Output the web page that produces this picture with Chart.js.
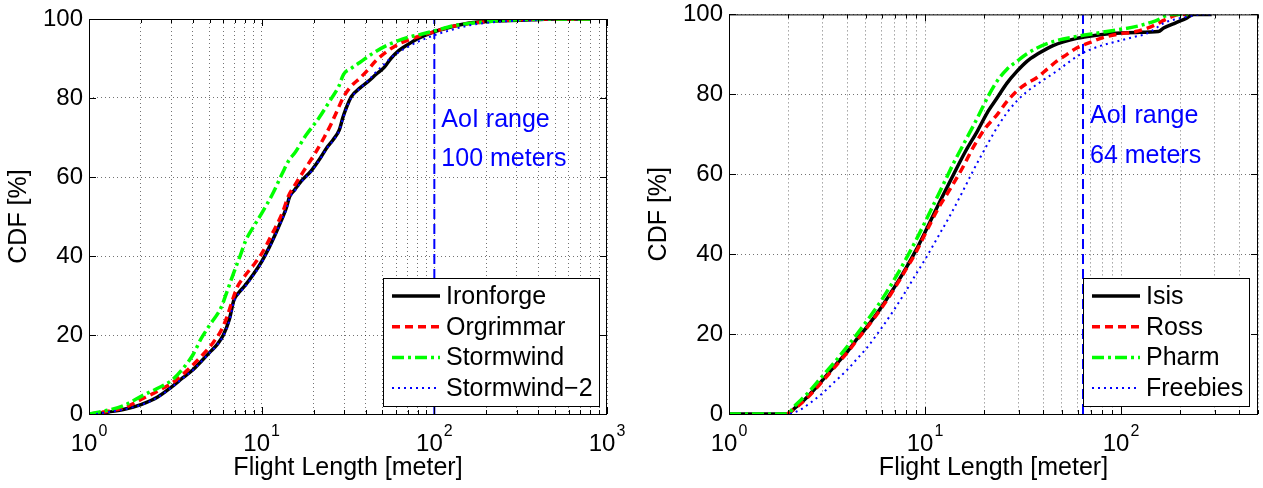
<!DOCTYPE html>
<html>
<head>
<meta charset="utf-8">
<script src="https://cdn.jsdelivr.net/npm/chart.js@4"></script>
<style>
  html, body { margin: 0; padding: 0; background: #fff; }
  #wrap { position: relative; width: 1263px; height: 488px; overflow: hidden; }
  .pane { position: absolute; top: 0; }
</style>
</head>
<body>
<div id="wrap">
  <div class="pane" style="left:0;width:640px;height:488px"><canvas id="leftChart" width="640" height="488"></canvas></div>
  <div class="pane" style="left:640px;width:623px;height:488px"><canvas id="rightChart" width="623" height="488"></canvas></div>
</div>
<script>
// ---- left panel data (flight length in meters, CDF in %) ----
const leftNames = ["Ironforge", "Orgrimmar", "Stormwind", "Stormwind\u22122"];

const ironforgeX = [1.1, 1.3, 1.6, 2, 2.5, 3, 3.5, 4, 4.5, 5, 5.5, 6, 6.5, 6.9, 7.3, 8, 9, 10, 11, 12, 13, 13.9, 14.5, 15.5, 17, 19.3, 22, 24, 26, 28.2, 29.5, 30.6, 33, 37, 41.4, 46, 51.4, 56, 62.2, 70, 80, 98.6, 120, 160, 220, 366, 500, 800];
const ironforgeY = [0, 0.5, 1.2, 2.4, 4.3, 6.8, 9.2, 11.2, 13.5, 15.6, 17.5, 20, 24, 28.8, 30.5, 32.5, 35.5, 38.6, 42, 45.5, 49, 52.2, 55, 56.7, 59, 61.5, 65, 67.6, 69.5, 72, 75, 77, 80.3, 82.5, 84.2, 86, 87.8, 90, 92, 93.5, 95, 96.7, 97.8, 99, 99.5, 99.8, 100, 100];

const orgrimmarX = [1, 1.3, 1.6, 2.07, 2.5, 3.2, 3.8, 4.45, 5.2, 5.8, 6.3, 6.8, 7.2, 8, 9, 10, 11.5, 13.2, 14.3, 15.5, 17.5, 20.4, 23, 25.3, 27.5, 29.8, 33, 37, 41, 46, 54, 63, 80, 98.6, 130, 200, 300, 500, 800];
const orgrimmarY = [0, 0.7, 1.6, 4, 5.8, 8.6, 11.5, 14.5, 17.9, 21, 24.6, 29, 32, 35, 37.8, 40.6, 45.6, 51, 55.2, 57.8, 61.5, 66, 70, 73.5, 77, 80.3, 83, 85, 87, 89.5, 92, 93.8, 95.5, 96.7, 98.2, 99.3, 99.8, 100, 100];

const stormwindX = [1, 1.3, 1.6, 2.07, 2.5, 3.03, 3.5, 4, 4.45, 5, 5.83, 6.3, 6.87, 7.5, 8.1, 9, 10, 11.5, 13.2, 14.5, 15.5, 18, 21.5, 25, 28, 29.8, 33, 37, 44, 51.4, 60, 71, 85, 98.6, 130, 200, 300, 500, 800];
const stormwindY = [0, 1, 2.2, 4.8, 6.5, 8.6, 11.5, 15, 19, 22.5, 27, 31, 35.6, 40, 44, 47.5, 50.8, 55.5, 61, 64.5, 66, 70.5, 75, 79.5, 83, 86, 87.5, 89, 91.3, 93, 94.3, 95.4, 96.2, 96.9, 98.3, 99.3, 99.8, 100, 100];

const stormwind2X = [1.1, 1.3, 1.6, 2, 2.5, 3, 3.5, 4, 4.5, 5, 5.5, 6, 6.5, 6.9, 7.3, 8, 9, 10, 11, 12, 13, 13.9, 14.5, 15.5, 17, 19.3, 22, 24, 26, 28.2, 29.5, 30.6, 33, 37, 41.4, 46, 51.4, 56, 62.2, 70, 80, 98.6, 120, 160, 220, 366, 500, 800];
const stormwind2Y = [0, 0.5, 1.2, 2.3, 4.2, 6.7, 9.1, 11.1, 13.4, 15.5, 17.4, 19.8, 23.6, 28.3, 30.2, 32.2, 35.2, 38.3, 41.8, 45.3, 48.8, 51.8, 54.6, 56.4, 58.8, 61.3, 64.8, 67.4, 69.3, 71.8, 74.7, 76.7, 80, 82.4, 84.4, 86.6, 88.6, 90.2, 91.6, 92.9, 94.2, 95.8, 97, 98.4, 99.2, 99.7, 100, 100];

// ---- right panel data ----
const rightNames = ["Isis", "Ross", "Pharm", "Freebies"];

const isisX = [1, 1.5, 1.97, 2.2, 2.5, 3, 3.5, 4, 4.5, 5, 6, 7, 8, 9, 10, 12, 14, 16, 18.6, 21, 23.4, 26.2, 29.5, 33, 37.3, 45, 59.4, 75, 94.6, 120, 155, 165, 190, 215, 235, 290];
const isisY = [0, 0, 0, 1.8, 4.2, 8.5, 12.3, 15.5, 18.8, 21.5, 26.8, 31.8, 36.5, 41, 45.5, 53.5, 60, 65.5, 71, 75.8, 79.2, 82.8, 85.8, 88.2, 90, 92.2, 94, 94.8, 95.3, 95.5, 95.7, 96.6, 97.9, 99, 100, 100];

const rossX = [1.98, 2.2, 2.5, 3, 3.5, 4, 4.5, 5, 6, 7, 8, 9, 10, 11.7, 13.4, 15.5, 17.7, 20.3, 23.4, 26.3, 29.5, 33, 37.3, 42, 47, 53, 59.4, 68, 78.7, 95, 119, 135, 150, 165, 181, 200, 220];
const rossY = [0, 1.6, 4, 8.2, 12, 15.3, 18.5, 21.3, 26.5, 31.5, 36.2, 40.5, 45, 51.5, 56.2, 61.5, 66.9, 71.5, 75, 78.3, 80.9, 82.7, 84.2, 86.3, 88.3, 90, 91.6, 92.8, 94, 95, 95.7, 96.5, 97.4, 98.5, 99.4, 100, 100];

const pharmX = [1, 1.5, 1.97, 2.2, 2.5, 3, 3.5, 4, 4.5, 5, 6, 7, 8, 9, 10, 12, 14, 16, 18.6, 21, 23.4, 26.2, 29.5, 33, 37.3, 45, 59.4, 75, 94.6, 120, 150, 181, 220];
const pharmY = [0, 0, 0, 2.4, 5, 9.5, 13.3, 16.8, 20, 23, 28.5, 33.8, 38.8, 43.5, 48, 56, 62.8, 68.2, 74.3, 79.5, 83.4, 86.3, 88.3, 90.1, 91.6, 93.2, 94.5, 95.3, 96.1, 97, 98.4, 100, 100];

const freebiesX = [2.05, 2.3, 2.6, 3, 3.5, 4, 4.5, 5, 6, 7, 8, 9, 10.1, 11.7, 13.4, 15.5, 17.7, 20.3, 23.4, 26.3, 29.5, 33, 37.3, 42, 47, 54, 61.9, 75, 94.6, 115, 137, 150, 165, 190, 217, 260, 300];
const freebiesY = [0, 1, 2.8, 5.2, 8.3, 11, 13.8, 16.3, 21.5, 26.3, 30.8, 35, 39, 44.5, 49.6, 55.5, 61.1, 66.5, 71.8, 75.5, 78.4, 80.6, 82.5, 84.2, 85.8, 88, 90, 91.8, 93.2, 94.3, 95.3, 96.5, 97.8, 98.8, 99.4, 100, 100];

// axes
const yTicks = [0, 20, 40, 60, 80, 100];
const leftXMax = 1000;
const rightXMax = 500;
const leftAoI = 100;
const rightAoI = 64;
const leftAoIText = ["AoI range", "100 meters"];
const rightAoIText = ["AoI range", "64 meters"];

// ---- styles ----
const FONT = "'Liberation Sans', Arial, Helvetica, sans-serif";
const lineStyles = [
  { color: "#000000", width: 3.5, dash: [] },
  { color: "#ff0000", width: 3.5, dash: [8, 5] },
  { color: "#00ff00", width: 3.5, dash: [12, 4, 3, 4] },
  { color: "#0000ff", width: 2, dash: [2, 4] }
];

function logGrid(max) {
  const out = [];
  for (let e = 0; Math.pow(10, e) <= max; e++) {
    for (let m = 1; m <= 9; m++) {
      const v = m * Math.pow(10, e);
      if (v <= max) out.push(v);
    }
  }
  return out;
}
function isPow10(v) {
  const l = Math.log10(v);
  return Math.abs(l - Math.round(l)) < 1e-9;
}

// draws box, inner tick marks, 10^k labels, AoI text and legend like MATLAB
const matlabAxes = {
  id: "matlabAxes",
  afterDatasetsDraw(chart, args, opts) {
    const { ctx, chartArea: a } = chart;
    const x = chart.scales.x, y = chart.scales.y;
    ctx.save();
    ctx.strokeStyle = "#000";
    ctx.lineWidth = 1;
    ctx.setLineDash([]);
    ctx.strokeRect(a.left + 0.5, a.top + 0.5, a.right - a.left - 1, a.bottom - a.top);

    // tick marks
    ctx.beginPath();
    x.ticks.forEach(t => {
      const px = Math.round(x.getPixelForValue(t.value)) + 0.5;
      const len = t.major ? 7 : 4;
      ctx.moveTo(px, a.bottom); ctx.lineTo(px, a.bottom - len);
      ctx.moveTo(px, a.top); ctx.lineTo(px, a.top + len);
    });
    y.ticks.forEach(t => {
      const py = Math.round(y.getPixelForValue(t.value)) + 0.5;
      ctx.moveTo(a.left, py); ctx.lineTo(a.left + 7, py);
      ctx.moveTo(a.right, py); ctx.lineTo(a.right - 7, py);
    });
    ctx.stroke();

    // x tick labels 10^k
    ctx.fillStyle = "#000";
    ctx.textBaseline = "alphabetic";
    ctx.textAlign = "left";
    x.ticks.filter(t => t.major).forEach(t => {
      const px = x.getPixelForValue(t.value);
      const exp = String(Math.round(Math.log10(t.value)));
      ctx.font = "24px " + FONT;
      const wb = ctx.measureText("10").width;
      ctx.font = "16px " + FONT;
      const we = ctx.measureText(exp).width;
      const x0 = px - (wb + 1 + we) / 2;
      ctx.font = "24px " + FONT;
      ctx.fillText("10", x0, a.bottom + 37);
      ctx.font = "16px " + FONT;
      ctx.fillText(exp, x0 + wb + 1, a.bottom + 22);
    });

    // AoI annotation text
    ctx.fillStyle = "#0000ff";
    ctx.font = "25px " + FONT;
    const ax = x.getPixelForValue(opts.aoi) + 7;
    opts.aoiText.forEach((s, i) => {
      ctx.fillText(s, ax, y.getPixelForValue(opts.aoiY[i]));
    });

    // legend
    ctx.font = "25px " + FONT;
    const tw = Math.max(...opts.names.map(n => ctx.measureText(n).width));
    const bw = Math.round(9 + 48 + 6 + tw + 6);
    const bh = 128;
    const bx = Math.round(a.right - opts.legendGap - bw);
    const by = Math.round(a.bottom - 8 - bh);
    ctx.fillStyle = "#fff";
    ctx.fillRect(bx, by, bw, bh);
    ctx.strokeStyle = "#000";
    ctx.lineWidth = 1;
    ctx.strokeRect(bx + 0.5, by + 0.5, bw, bh);
    opts.names.forEach((n, i) => {
      const cy = by + 18 + i * 30.7;
      const st = lineStyles[i];
      ctx.strokeStyle = st.color;
      ctx.lineWidth = st.width;
      ctx.setLineDash(st.dash);
      ctx.beginPath();
      ctx.moveTo(bx + 9, cy);
      ctx.lineTo(bx + 57, cy);
      ctx.stroke();
      ctx.setLineDash([]);
      ctx.fillStyle = "#000";
      ctx.textBaseline = "middle";
      ctx.fillText(n, bx + 63, cy + 1);
    });
    ctx.restore();
  }
};

function makeChart(id, names, xs, ys, xMax, aoi, aoiText, pad) {
  const datasets = names.map((name, i) => ({
    label: name,
    data: xs[i].map((v, j) => ({ x: v, y: ys[i][j] })),
    borderColor: lineStyles[i].color,
    borderWidth: lineStyles[i].width,
    borderDash: lineStyles[i].dash,
    pointRadius: 0,
    cubicInterpolationMode: "monotone",
    fill: false,
    order: 10 - i
  }));
  datasets.push({
    label: "AoI",
    data: [{ x: aoi, y: 0 }, { x: aoi, y: 100 }],
    borderColor: "#0000ff",
    borderWidth: 2,
    borderDash: [10, 5],
    pointRadius: 0,
    fill: false,
    order: 20
  });

  new Chart(document.getElementById(id), {
    type: "line",
    data: { datasets },
    options: {
      responsive: false,
      animation: false,
      devicePixelRatio: 1,
      layout: { padding: { left: 0, right: pad.right, top: pad.top, bottom: 0 } },
      plugins: {
        legend: { display: false },
        tooltip: { enabled: false },
        matlabAxes: {
          names: names,
          aoi: aoi,
          aoiText: aoiText,
          aoiY: [72.7, 62.8],
          legendGap: pad.legendGap
        }
      },
      scales: {
        x: {
          type: "logarithmic",
          min: 1,
          max: xMax,
          afterBuildTicks: s => {
            s.ticks = logGrid(xMax).map(v => ({ value: v, major: isPow10(v) }));
          },
          afterFit: s => { s.height = 74; },
          ticks: { display: false, autoSkip: false },
          grid: { color: "rgba(0,0,0,0.55)", lineWidth: 1, drawTicks: false },
          border: { display: false, dash: [1, 3] },
          title: {
            display: true,
            text: "Flight Length [meter]",
            color: "#000",
            font: { family: FONT, size: 25 },
            padding: { top: 0, bottom: 5 }
          }
        },
        y: {
          min: 0,
          max: 100,
          afterBuildTicks: s => { s.ticks = yTicks.map(v => ({ value: v })); },
          afterFit: s => { s.width = 89; },
          ticks: {
            color: "#000",
            padding: 6,
            font: { family: FONT, size: 24, lineHeight: 0.7 }
          },
          grid: { color: "rgba(0,0,0,0.55)", lineWidth: 1, drawTicks: false },
          border: { display: false, dash: [1, 3] },
          title: {
            display: true,
            text: "CDF [%]",
            color: "#000",
            font: { family: FONT, size: 25 },
            padding: { top: 4, bottom: 4 }
          }
        }
      }
    },
    plugins: [matlabAxes]
  });
}

makeChart("leftChart", leftNames,
  [ironforgeX, orgrimmarX, stormwindX, stormwind2X],
  [ironforgeY, orgrimmarY, stormwindY, stormwind2Y],
  leftXMax, leftAoI, leftAoIText, { right: 33, top: 19, legendGap: 8 });

makeChart("rightChart", rightNames,
  [isisX, rossX, pharmX, freebiesX],
  [isisY, rossY, pharmY, freebiesY],
  rightXMax, rightAoI, rightAoIText, { right: 5, top: 9, legendGap: 9 });
</script>
</body>
</html>
